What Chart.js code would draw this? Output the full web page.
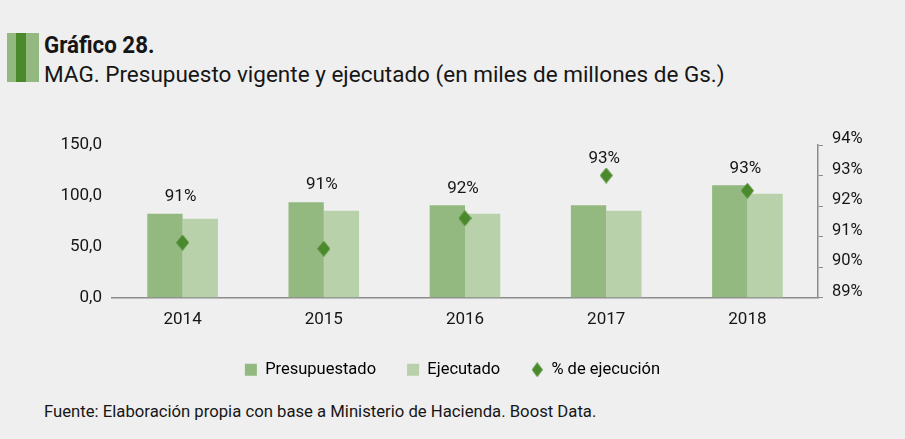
<!DOCTYPE html>
<html>
<head>
<meta charset="utf-8">
<script src="https://cdn.jsdelivr.net/npm/chart.js@4.4.1/dist/chart.umd.min.js"></script>
<style>
  html, body { margin: 0; padding: 0; background: #efefef; }
  body { width: 905px; height: 439px; position: relative; overflow: hidden; font-family: Roboto, sans-serif; color: #161616; }
  #wrap { position: absolute; left: 0; top: 0; width: 905px; height: 439px; }
  .stripe { position: absolute; top: 33px; height: 49px; }
  .txt { position: absolute; left: 44px; white-space: nowrap; }
  #title { top: 31px; font-size: 23.5px; font-weight: bold; transform-origin: left top; transform: scaleX(0.95); }
  #subtitle { top: 61px; font-size: 22.5px; }
  #source { top: 402px; font-size: 16.7px; }
</style>
</head>
<body>
<div class="stripe" style="left:7px;width:9px;background:#93b981"></div>
<div class="stripe" style="left:16px;width:10px;background:#4a8a2c"></div>
<div class="stripe" style="left:26px;width:13px;background:#93b981"></div>
<div class="txt" id="title">Gráfico 28.</div>
<div class="txt" id="subtitle">MAG. Presupuesto vigente y ejecutado (en miles de millones de Gs.)</div>
<div class="txt" id="source">Fuente: Elaboración propia con base a Ministerio de Hacienda. Boost Data.</div>
<div id="wrap"><canvas id="chart"></canvas></div>
<script>
const years = ['2014', '2015', '2016', '2017', '2018'];
const presupuestado = [82.4, 93.7, 90.7, 90.7, 110.3];
const ejecutado = [77.5, 85.4, 82.4, 85.4, 102.0];
const ejecucion = [90.8, 90.6, 91.6, 93.0, 92.5];
const leftTicks = [0, 50, 100, 150];
const rightTicks = [89, 90, 91, 92, 93, 94];

function makeDiamond(w, h, color) {
  const c = document.createElement('canvas');
  c.width = w; c.height = h;
  const g = c.getContext('2d');
  g.fillStyle = color;
  g.beginPath();
  g.moveTo(w / 2, 0);
  g.lineTo(w, h / 2);
  g.lineTo(w / 2, h);
  g.lineTo(0, h / 2);
  g.closePath();
  g.fill();
  return c;
}
const diamond = makeDiamond(13, 16, '#4a8a2c');
const legendDiamond = makeDiamond(11, 15, '#4a8a2c');

// percentage labels above each year
const pctLabels = {
  id: 'pctLabels',
  afterDatasetsDraw(chart) {
    const ctx = chart.ctx;
    const xs = chart.scales.x;
    ctx.save();
    ctx.font = '17px Roboto';
    ctx.fillStyle = '#161616';
    ctx.textAlign = 'center';
    ctx.textBaseline = 'middle';
    ejecucion.forEach((v, i) => {
      const tops = [0, 1, 2].map(d => chart.getDatasetMeta(d).data[i].y);
      const y = Math.min(...tops) - 17;
      ctx.fillText(Math.round(v) + '%', xs.getPixelForValue(i) - 2, y);
    });
    ctx.restore();
  }
};

Chart.defaults.font.family = 'Roboto';
Chart.defaults.font.size = 17;
Chart.defaults.color = '#161616';

new Chart(document.getElementById('chart').getContext('2d'), {
  type: 'bar',
  data: {
    labels: years,
    datasets: [{
      label: 'Presupuestado',
      data: presupuestado,
      backgroundColor: '#93b981',
      yAxisID: 'y',
      order: 1
    }, {
      label: 'Ejecutado',
      data: ejecutado,
      backgroundColor: '#b8d1aa',
      yAxisID: 'y',
      order: 1
    }, {
      type: 'line',
      label: '% de ejecución',
      data: ejecucion,
      yAxisID: 'y1',
      showLine: false,
      pointStyle: diamond,
      backgroundColor: '#4a8a2c',
      borderColor: '#4a8a2c',
      order: 0
    }]
  },
  options: {
    responsive: true,
    maintainAspectRatio: false,
    animation: false,
    layout: { padding: { top: 145, left: 0, right: 0, bottom: 51 } },
    datasets: {
      bar: { categoryPercentage: 0.5, barPercentage: 1.0 }
    },
    plugins: {
      tooltip: { enabled: false },
      legend: {
        position: 'bottom',
        sort: (a, b) => a.datasetIndex - b.datasetIndex,
        labels: {
          font: { size: 16.5 },
          usePointStyle: true,
          boxWidth: 12,
          boxHeight: 12,
          padding: 31,
          generateLabels(chart) {
            return chart.data.datasets.map((ds, i) => ({
              text: ds.label,
              fillStyle: ds.backgroundColor,
              strokeStyle: ds.backgroundColor,
              lineWidth: 0,
              pointStyle: i === 2 ? legendDiamond : 'rect',
              datasetIndex: i,
              hidden: false
            }));
          }
        }
      }
    },
    scales: {
      x: {
        grid: { display: false, drawTicks: false },
        border: { display: true, color: '#8c8c8c', width: 1.5 },
        ticks: { padding: 12 },
        afterFit(scale) { scale.height = 33; }
      },
      y: {
        position: 'left',
        min: 0,
        max: 150,
        grid: { display: false, drawTicks: false },
        border: { display: false },
        ticks: {
          padding: 10,
          stepSize: 50,
          callback: v => leftTicks.includes(v) ? v.toFixed(1).replace('.', ',') : ''
        },
        afterFit(scale) { scale.width = 112; }
      },
      y1: {
        position: 'right',
        min: 89,
        max: 94,
        grid: { display: true, drawOnChartArea: false, drawTicks: true, tickLength: 5, color: '#8c8c8c' },
        border: { display: true, color: '#8c8c8c', width: 1.5 },
        ticks: {
          padding: 9,
          stepSize: 1,
          labelOffset: -6,
          font: { size: 16.5 },
          callback: v => rightTicks.includes(v) ? v + '%' : ''
        },
        afterFit(scale) { scale.width = 87; }
      }
    }
  },
  plugins: [pctLabels]
});
</script>
</body>
</html>
